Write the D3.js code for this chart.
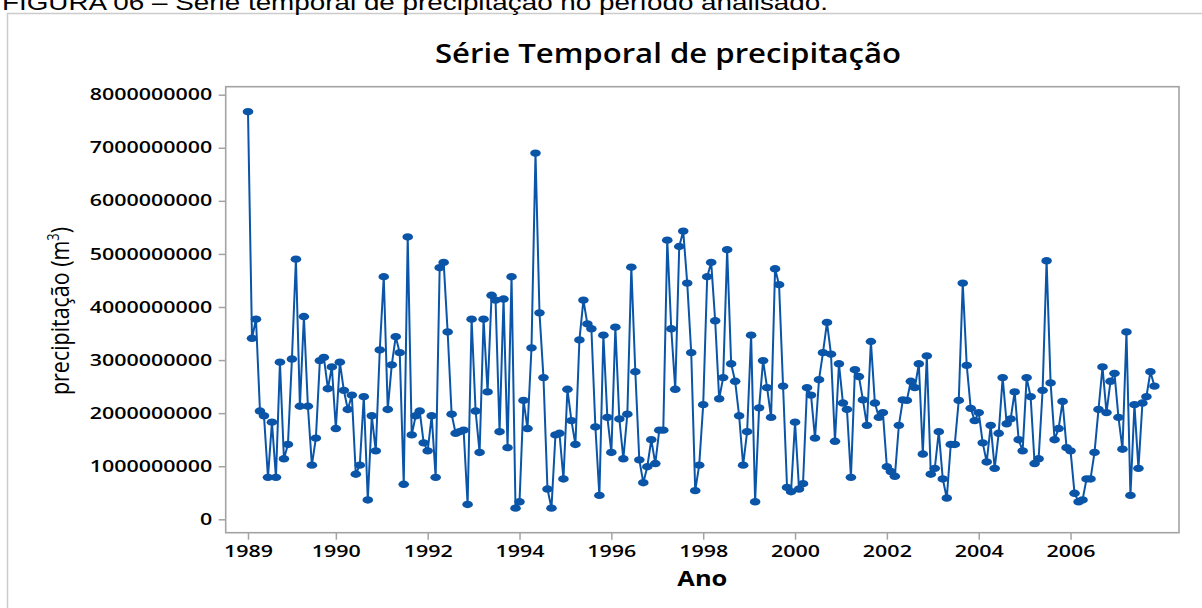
<!DOCTYPE html>
<html>
<head>
<meta charset="utf-8">
<script src="https://cdn.jsdelivr.net/npm/d3@7"></script>
<style>
  body { margin: 0; background: #fff; }
  svg { display: block; }
  text { font-family: "Open Sans", "Noto Sans", sans-serif; fill: #000; }
</style>
</head>
<body>
<svg></svg>
<script>
  let w = 1202;
  let h = 608;

// Monthly precipitation, 10^9 m3
const p1989 = [7.68, 3.41, 3.77, 2.04, 1.95, 0.79, 1.83, 0.79, 2.96, 1.14, 1.41, 3.02];
const p1990 = [4.90, 2.13, 3.82, 2.13, 1.02, 1.53, 2.99, 3.05, 2.46, 2.87, 1.71, 2.96];
const p1991 = [2.43, 2.07, 2.34, 0.85, 1.02, 2.31, 0.365, 1.95, 1.29, 3.19, 4.57, 2.07];
const p1992 = [2.91, 3.44, 3.14, 0.66, 5.32, 1.59, 1.95, 2.04, 1.44, 1.29, 1.95, 0.79];
const p1993 = [4.74, 4.84, 3.53, 1.98, 1.62, 1.65, 1.68, 0.28, 3.77, 2.04, 1.26, 3.77];
const p1994 = [2.40, 4.22, 4.13, 1.65, 4.15, 1.35, 4.57, 0.21, 0.33, 2.24, 1.71, 3.23];
const p1995 = [6.90, 3.89, 2.67, 0.57, 0.21, 1.59, 1.62, 0.76, 2.45, 1.86, 1.41, 3.38];
const p1996 = [4.13, 3.68, 3.59, 1.74, 0.45, 3.47, 1.92, 1.26, 3.62, 1.89, 1.14, 1.98];
const p1997 = [4.75, 2.78, 1.12, 0.69, 0.99, 1.50, 1.05, 1.68, 1.68, 5.26, 3.59, 2.45];
const p1998 = [5.14, 5.43, 4.45, 3.14, 0.54, 1.02, 2.16, 4.57, 4.84, 3.74, 2.27, 2.67];
const p1999 = [5.08, 2.93, 2.60, 1.95, 1.02, 1.65, 3.47, 0.33, 2.10, 2.99, 2.48, 1.92];
const p2000 = [4.72, 4.42, 2.51, 0.60, 0.52, 1.83, 0.57, 0.67, 2.48, 2.34, 1.53, 2.63];
const p2001 = [3.14, 3.71, 3.11, 1.47, 2.93, 2.19, 2.07, 0.79, 2.82, 2.69, 2.25, 1.77];
const p2002 = [3.35, 2.19, 1.92, 2.01, 0.99, 0.90, 0.81, 1.77, 2.25, 2.24, 2.60, 2.48];
const p2003 = [2.93, 1.23, 3.08, 0.85, 0.96, 1.65, 0.76, 0.40, 1.41, 1.41, 2.24, 4.45];
const p2004 = [2.90, 2.09, 1.86, 2.01, 1.44, 1.08, 1.77, 0.96, 1.62, 2.67, 1.80, 1.89];
const p2005 = [2.40, 1.50, 1.29, 2.67, 2.31, 1.05, 1.14, 2.43, 4.87, 2.57, 1.50, 1.71];
const p2006 = [2.22, 1.35, 1.29, 0.49, 0.33, 0.365, 0.76, 0.76, 1.26, 2.07, 2.87, 2.01];
const p2007 = [2.60, 2.75, 1.92, 1.32, 3.53, 0.45, 2.16, 0.96, 2.19, 2.31, 2.78, 2.51];

// x ticks sit on observation index (Minitab style), labelled with the year
const xTickIndex = [0, 22, 45, 68, 91, 114, 137, 160, 183, 206];
const xTickLabels = ["1989", "1990", "1992", "1994", "1996", "1998", "2000", "2002", "2004", "2006"];
const yTickValues = [0, 1e9, 2e9, 3e9, 4e9, 5e9, 6e9, 7e9, 8e9];

const values = [p1989, p1990, p1991, p1992, p1993, p1994, p1995, p1996, p1997, p1998,
  p1999, p2000, p2001, p2002, p2003, p2004, p2005, p2006, p2007].flat().map(v => v * 1e9);

const blue = '#0a55a7';
const grey = '#a3a3a3';
const sx = 1.34;   // picture is stretched horizontally

const plot = { left: 225.7, right: 1179, top: 86.7, bottom: 532.7 };

const svg = d3.select('svg')
  .attr('width', w)
  .attr('height', h)

// outer frame + caption
svg.append('rect')
  .attr('x', 7.5).attr('y', 13.5)
  .attr('width', 1220).attr('height', 620)
  .attr('fill', 'none').attr('stroke', '#cccccc').attr('stroke-width', 1.5)

svg.append('text')
  .attr('x', 2).attr('y', 10)
  .attr('textLength', 826).attr('lengthAdjust', 'spacingAndGlyphs')
  .style('font-family', '"Liberation Sans", Arial, sans-serif')
  .style('font-size', '22px')
  .text('FIGURA 06 – Série temporal de precipitação no período analisado.')

// Create Scales
const xScale = d3.scaleLinear()
  .domain([0, values.length - 1])
  .range([248, 248 + 3.993 * (values.length - 1)])

const yScale = d3.scaleLinear()
  .domain([0, 8e9])
  .range([519.3, 94.7])

// plot frame
svg.append('rect')
  .attr('x', plot.left).attr('y', plot.top)
  .attr('width', plot.right - plot.left).attr('height', plot.bottom - plot.top)
  .attr('fill', 'none').attr('stroke', grey).attr('stroke-width', 1.6)

// Draw Axes
const xAxis = d3.axisBottom(xScale)
  .tickValues(xTickIndex)
  .tickFormat((d, i) => xTickLabels[i])
  .tickSize(7)

const gx = svg.append('g')
  .attr('transform', 'translate(0,' + plot.bottom + ')')
  .attr('id', 'x-axis')
  .call(xAxis)
gx.select('.domain').remove()
gx.selectAll('line').attr('stroke', grey).attr('stroke-width', 1.5)
gx.selectAll('text')
  .attr('y', 13).attr('dy', '0.71em')
  .attr('transform', `scale(${sx},1)`)
  .attr('fill', '#000')
  .style('font-size', '16px').style('font-weight', 600)
  .style('font-family', '"Open Sans", sans-serif')
gx.selectAll('.tick text').attr('x', 0)

const yAxis = d3.axisLeft(yScale)
  .tickValues(yTickValues)
  .tickFormat(d3.format('d'))
  .tickSize(7)

const gy = svg.append('g')
  .attr('transform', 'translate(' + plot.left + ',0)')
  .attr('id', 'y-axis')
  .call(yAxis)
gy.select('.domain').remove()
gy.selectAll('line').attr('stroke', grey).attr('stroke-width', 1.5)
gy.selectAll('text')
  .attr('x', -13.5 / sx)
  .attr('transform', `scale(${sx},1)`)
  .attr('fill', '#000')
  .style('font-size', '16px').style('font-weight', 600)
  .style('font-family', '"Open Sans", sans-serif')

// Draw Line + points
const line = d3.line()
  .x((d, i) => xScale(i))
  .y(d => yScale(d))

svg.append('path')
  .datum(values)
  .attr('d', line)
  .attr('fill', 'none')
  .attr('stroke', blue)
  .attr('stroke-width', 2)
  .attr('stroke-linejoin', 'round')

svg.selectAll('ellipse.pt')
  .data(values)
  .enter()
  .append('ellipse')
  .attr('class', 'pt')
  .attr('cx', (d, i) => xScale(i))
  .attr('cy', d => yScale(d))
  .attr('rx', 5.3)
  .attr('ry', 3.7)
  .attr('fill', blue)

// Titles
svg.append('text')
  .attr('x', 668).attr('y', 63)
  .attr('text-anchor', 'middle')
  .attr('textLength', 466).attr('lengthAdjust', 'spacingAndGlyphs')
  .style('font-size', '27px').style('font-weight', 600)
  .text('Série Temporal de precipitação')

svg.append('text')
  .attr('x', (plot.left + plot.right) / 2).attr('y', 586)
  .attr('text-anchor', 'middle')
  .attr('textLength', 50).attr('lengthAdjust', 'spacingAndGlyphs')
  .style('font-size', '21px').style('font-weight', 700)
  .text('Ano')

const ylab = svg.append('text')
  .attr('transform', 'translate(69,311) scale(1.3,1) rotate(-90)')
  .attr('text-anchor', 'middle')
  .attr('textLength', 168).attr('lengthAdjust', 'spacingAndGlyphs')
  .style('font-size', '20px')
ylab.append('tspan').text('precipitação (m')
ylab.append('tspan').attr('baseline-shift', 'super').style('font-size', '12px').text('3')
ylab.append('tspan').text(')')
</script>
</body>
</html>
